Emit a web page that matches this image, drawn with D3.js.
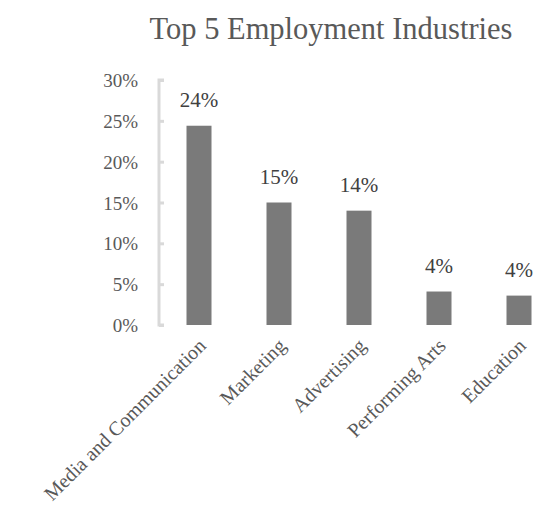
<!DOCTYPE html>
<html>
<head>
<meta charset="utf-8">
<script src="https://cdn.jsdelivr.net/npm/d3@7"></script>
<style>
  body { margin: 0; background: #fff; }
  text { font-family: "Liberation Serif", "DejaVu Serif", serif; }
</style>
</head>
<body>
<div class="canvas"></div>
<script>
// chart data
const industries = ['Media and Communication', 'Marketing', 'Advertising', 'Performing Arts', 'Education'];
const shares = [0.244, 0.150, 0.140, 0.041, 0.036];
const shareLabels = ['24%', '15%', '14%', '4%', '4%'];
const yTicks = [0, 0.05, 0.10, 0.15, 0.20, 0.25, 0.30];

const dims = { w: 539, h: 531 };
const plot = { left: 159, right: 559, top: 80, bottom: 325 };

const svg = d3.select('.canvas')
  .append('svg')
    .attr('width', dims.w)
    .attr('height', dims.h);

// title
svg.append('text')
  .attr('x', 331)
  .attr('y', 39)
  .attr('text-anchor', 'middle')
  .attr('font-size', 30.5)
  .attr('fill', '#595959')
  .text('Top 5 Employment Industries');

// scales
const x = d3.scaleBand()
  .domain(industries)
  .range([plot.left, plot.right])
  .paddingInner(0.6875)
  .paddingOuter(0.34375);

const y = d3.scaleLinear()
  .domain([0, 0.30])
  .range([plot.bottom, plot.top]);

// y axis: light grey line with short ticks to the right
const yAxis = d3.axisRight(y)
  .tickValues(yTicks)
  .tickSize(5)
  .tickFormat('');

const yAxisGroup = svg.append('g')
  .attr('transform', `translate(${plot.left},0)`)
  .call(yAxis);

yAxisGroup.selectAll('path, line')
  .attr('stroke', '#d9d9d9')
  .attr('stroke-width', 3);
yAxisGroup.select('path').attr('d', `M5,${plot.top}H0V${plot.bottom}H5`);

// y tick labels
svg.append('g').selectAll('text')
  .data(yTicks)
  .enter()
  .append('text')
    .attr('x', 138)
    .attr('y', d => y(d) + 7)
    .attr('text-anchor', 'end')
    .attr('font-size', 19)
    .attr('fill', '#595959')
    .text(d3.format('.0%'));

// bars
svg.append('g').selectAll('rect')
  .data(shares)
  .enter()
  .append('rect')
    .attr('x', (d, i) => x(industries[i]))
    .attr('y', d => y(d))
    .attr('width', x.bandwidth())
    .attr('height', d => y(0) - y(d))
    .attr('fill', '#7a7a7a');

// value labels
svg.append('g').selectAll('text')
  .data(shares)
  .enter()
  .append('text')
    .attr('x', (d, i) => x(industries[i]) + x.bandwidth() / 2)
    .attr('y', d => y(d) - 19)
    .attr('text-anchor', 'middle')
    .attr('font-size', 21)
    .attr('fill', '#404040')
    .text((d, i) => shareLabels[i]);

// category labels rotated -45
svg.append('g').selectAll('text')
  .data(industries)
  .enter()
  .append('text')
    .attr('text-anchor', 'end')
    .attr('font-size', 20)
    .attr('fill', '#595959')
    .attr('transform', d => `translate(${x(d) + x.bandwidth() / 2 + 8},${plot.bottom + 22}) rotate(-45)`)
    .text(d => d);
</script>
</body>
</html>
